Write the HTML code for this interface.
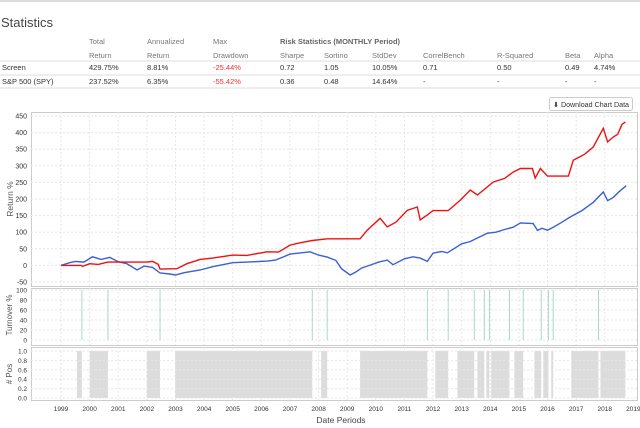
<!DOCTYPE html>
<html><head><meta charset="utf-8"><style>
body{margin:0;background:#fff;font-family:"Liberation Sans",sans-serif;}
svg{display:block}
text{font-family:"Liberation Sans",sans-serif}
</style></head><body>
<svg id="c" width="640" height="428" xmlns="http://www.w3.org/2000/svg">
<line x1="0" y1="1" x2="640" y2="1" stroke="#ddd" stroke-width="2"/>
<text x="1" y="27" font-size="13" fill="#444">Statistics</text>
<g font-size="7.5" fill="#777">
<text x="89" y="44">Total</text><text x="147" y="44">Annualized</text><text x="213" y="44">Max</text>
<text x="280" y="44" font-weight="bold" fill="#666">Risk Statistics (MONTHLY Period)</text>
<text x="89" y="58">Return</text><text x="147" y="58">Return</text><text x="213" y="58">Drawdown</text>
<text x="280" y="58">Sharpe</text><text x="324" y="58">Sortino</text><text x="372" y="58">StdDev</text>
<text x="423" y="58">CorrelBench</text><text x="497" y="58">R-Squared</text><text x="565" y="58">Beta</text><text x="594" y="58">Alpha</text>
</g>
<line x1="0" y1="61" x2="640" y2="61" stroke="#ddd"/>
<g font-size="7.5" fill="#333">
<text x="2" y="70">Screen</text><text x="89" y="70">429.75%</text><text x="147" y="70">8.81%</text><text x="213" y="70" fill="#e33">-25.44%</text>
<text x="280" y="70">0.72</text><text x="324" y="70">1.05</text><text x="372" y="70">10.05%</text><text x="423" y="70">0.71</text><text x="497" y="70">0.50</text><text x="565" y="70">0.49</text><text x="594" y="70">4.74%</text>
</g>
<line x1="0" y1="75" x2="640" y2="75" stroke="#ddd"/>
<g font-size="7.5" fill="#333">
<text x="2" y="84">S&amp;P 500 (SPY)</text><text x="89" y="84">237.52%</text><text x="147" y="84">6.35%</text><text x="213" y="84" fill="#e33">-55.42%</text>
<text x="280" y="84">0.36</text><text x="324" y="84">0.48</text><text x="372" y="84">14.64%</text><text x="423" y="84">-</text><text x="497" y="84">-</text><text x="565" y="84">-</text><text x="594" y="84">-</text>
</g>
<line x1="0" y1="88" x2="640" y2="88" stroke="#ddd"/>
<g>
<rect x="549.5" y="97.5" width="83" height="13" rx="2" fill="#fff" stroke="#ccc"/>
<text x="553" y="107" font-size="7" fill="#333" textLength="76" lengthAdjust="spacingAndGlyphs">⬇ Download Chart Data</text>
</g>
<g id="plots"></g>
</svg>
<script>
const years=[1999,2000,2001,2002,2003,2004,2005,2006,2007,2008,2009,2010,2011,2012,2013,2014,2015,2016,2017,2018];
const returnTicks=[450,400,350,300,250,200,150,100,50,0,-50];
const turnTicks=[100,80,60,40,20,0];
const posTicks=[1.0,0.8,0.6,0.4,0.2,0.0];
const spyT=[1999,1999.3,1999.5,1999.8,2000.1,2000.4,2000.7,2001.0,2001.3,2001.66,2001.9,2002.2,2002.46,2002.8,2003.0,2003.3,2003.86,2004.3,2005.0,2005.5,2006.2,2006.5,2007.0,2007.4,2007.7,2008.0,2008.3,2008.6,2008.8,2009.1,2009.3,2009.5,2009.8,2010.1,2010.4,2010.6,2011.0,2011.3,2011.55,2011.8,2012.0,2012.3,2012.5,2013.0,2013.3,2013.6,2013.9,2014.2,2014.5,2014.8,2015.05,2015.5,2015.65,2015.8,2016.0,2016.2,2016.5,2016.8,2017.2,2017.6,2017.95,2018.1,2018.3,2018.5,2018.75];
const spyV=[0,8,12,10,26,18,24,11,5,-14,-2,-6,-23,-26,-29,-22,-14,-4,8,10,13,16,34,38,41,31,25,15,-10,-29,-20,-8,1,10,16,2,20,26,22,12,37,42,38,65,72,85,97,100,108,115,128,126,105,112,106,115,130,146,165,190,221,195,205,222,240];
const scrT=[1999,1999.7,1999.75,2000.0,2000.3,2000.64,2002.0,2002.2,2002.4,2002.46,2003.05,2003.4,2003.86,2004.3,2005.0,2005.5,2006.2,2006.6,2007.0,2007.35,2007.78,2008.3,2009.45,2009.7,2010.15,2010.4,2010.7,2011.1,2011.45,2011.55,2011.8,2012.0,2012.53,2012.95,2013.3,2013.55,2014.1,2014.5,2014.8,2015.05,2015.47,2015.57,2015.75,2016.0,2016.73,2016.9,2017.3,2017.6,2017.95,2018.1,2018.3,2018.45,2018.6,2018.72];
const scrV=[0,0,-3,5,3,10,10,12,3,-11,-10,5,18,22,31,30,41,40,61,68,75,80,80,106,142,116,130,166,176,137,152,165,165,196,227,212,251,262,281,292,292,263,292,269,269,317,335,357,413,372,387,395,425,432];
const turnYears=[1999.73,2000.64,2002.46,2007.78,2008.3,2011.8,2012.53,2013.44,2013.79,2013.97,2014.67,2015.15,2015.78,2016.03,2016.2,2017.78];
const posStart=[1999.56,2000.01,2002.0,2002.99,2008.09,2009.45,2012.08,2012.85,2013.55,2013.86,2014.03,2014.84,2015.54,2015.85,2016.13,2016.83,2017.85];
const posEnd=[1999.73,2000.64,2002.46,2007.78,2008.3,2011.8,2012.53,2013.44,2013.79,2013.97,2014.67,2015.15,2015.78,2016.03,2016.2,2017.78,2018.72];

const NS="http://www.w3.org/2000/svg";
const g=document.getElementById('plots');
const L=31,R=637;
const X=y=>61+(y-1999)*28.62;
function mk(t,a,p){const e=document.createElementNS(NS,t);for(const k in a)e.setAttribute(k,a[k]);(p||g).appendChild(e);return e;}
function panel(top,bot,name){
  const r=mk('rect',{x:L+0.5,y:top+0.5,width:R-L,height:bot-top,fill:'#fff',stroke:'#ccc'});
  
  
  years.forEach(yr=>{const l=mk('line',{x1:X(yr),x2:X(yr),y1:top,y2:bot,stroke:'#e6e6e6','stroke-dasharray':'2,2'});
    
    });
}
const Yr=v=>265.4-v*0.332;
panel(112,286,'return-panel');
returnTicks.forEach(v=>{
  const l=mk('line',{x1:L,x2:R,y1:Yr(v),y2:Yr(v),stroke:'#e6e6e6','stroke-dasharray':'2,2'});
  
  
  const t=mk('text',{x:L-4,y:Yr(v)+2.5,'font-size':7,'text-anchor':'end',fill:'#333'});t.textContent=v;
  
  
});
const yl=mk('text',{x:13,y:199,'font-size':8.5,'text-anchor':'middle',fill:'#555',transform:'rotate(-90 13 199)'});yl.textContent='Return %';


function line(T,V,col,name){
  const d=T.map((t,i)=>(i?'L':'M')+X(t).toFixed(1)+','+Yr(V[i]).toFixed(1)).join('');
  const p=mk('path',{d:d,fill:'none',stroke:col,'stroke-width':1.4});
  
  
}
line(spyT,spyV,'#3a5fd6','spy-line');
line(scrT,scrV,'#f01010','screen-line');
const Yt=v=>340-v*0.5;
panel(288,345,'turnover-panel');
turnTicks.forEach(v=>{
  const l=mk('line',{x1:L,x2:R,y1:Yt(v),y2:Yt(v),stroke:'#e6e6e6','stroke-dasharray':'2,2'});
  
  
  const t=mk('text',{x:L-4,y:Yt(v)+2.5,'font-size':6.5,'text-anchor':'end',fill:'#333'});t.textContent=v;
  
  
});
turnYears.forEach(yr=>{const l=mk('line',{x1:X(yr),x2:X(yr),y1:Yt(100),y2:Yt(0),stroke:'#a8d8c8'});
  
  });
const tl=mk('text',{x:12,y:315,'font-size':8,'text-anchor':'middle',fill:'#555',transform:'rotate(-90 12 315)'});tl.textContent='Turnover %';


const Yp=v=>398-v*47;
panel(347,400,'positions-panel');
posStart.forEach((s,i)=>{const r=mk('rect',{x:X(s),y:Yp(1),width:X(posEnd[i])-X(s),height:Yp(0)-Yp(1),fill:'#dcdcdc'});
  
  });
posTicks.forEach(v=>{
  const l=mk('line',{x1:L,x2:R,y1:Yp(v),y2:Yp(v),stroke:'#e6e6e6','stroke-dasharray':'2,2'});
  
  
  const t=mk('text',{x:L-4,y:Yp(v)+2.5,'font-size':6.5,'text-anchor':'end',fill:'#333'});t.textContent=v.toFixed(1);
  
  
});
const pl=mk('text',{x:12,y:374,'font-size':8,'text-anchor':'middle',fill:'#555',transform:'rotate(-90 12 374)'});pl.textContent='# Pos';


years.forEach(yr=>{const t=mk('text',{x:X(yr),y:411,'font-size':6.5,'text-anchor':'middle',fill:'#333'});t.textContent=yr;
  
  });
const t19=mk('text',{x:X(2019),y:411,'font-size':6.5,'text-anchor':'middle',fill:'#333'});t19.textContent='2019';


const xt=mk('text',{x:341,y:423,'font-size':8.5,'text-anchor':'middle',fill:'#444'});xt.textContent='Date Periods';


</script>
</body></html>
